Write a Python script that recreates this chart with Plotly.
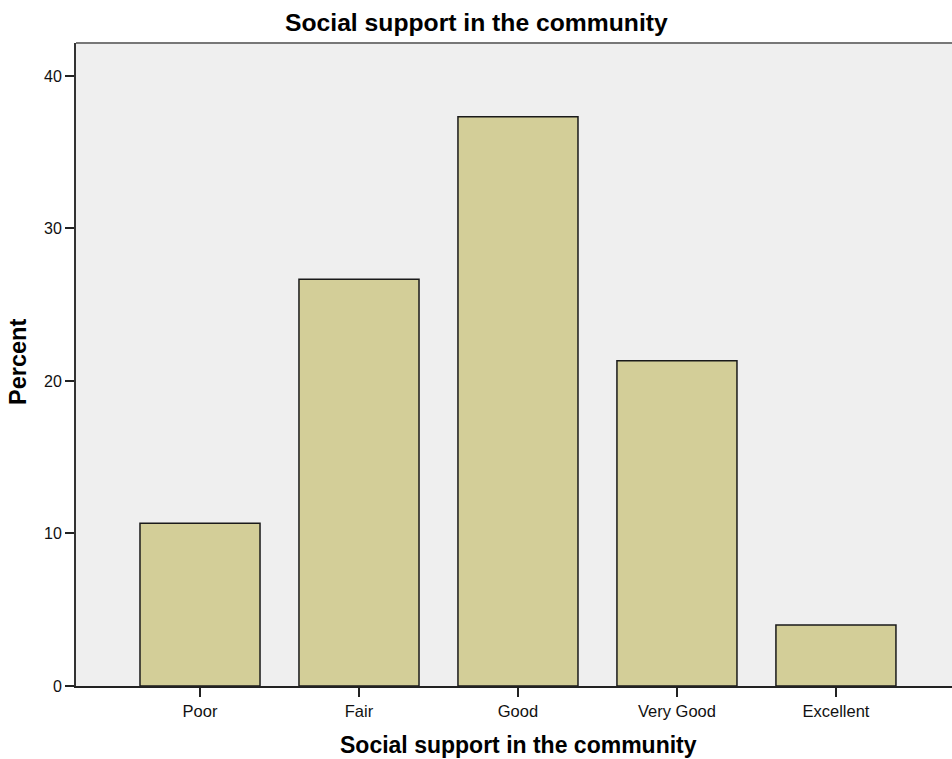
import plotly.graph_objects as go

categories = ["Poor", "Fair", "Good", "Very Good", "Excellent"]
percent = [10.67, 26.67, 37.33, 21.33, 4.0]
y_ticks = [0, 10, 20, 30, 40]
chart_title = "Social support in the community"
x_title = "Social support in the community"
y_title = "Percent"

fig = go.Figure(go.Bar(
    x=list(range(len(categories))),
    y=percent,
    width=0.755,
    marker=dict(color="#d3ce98", line=dict(color="#1a1a1a", width=1.5)),
))

font = "Liberation Sans, Arial, sans-serif"
W, H = 952, 759
fig.update_layout(
    width=W, height=H,
    margin=dict(l=76, r=0, t=43, b=73),
    paper_bgcolor="white",
    plot_bgcolor="#efefef",
    showlegend=False,
    font=dict(family=font, size=16, color="black"),
    xaxis=dict(
        range=[-0.78, 4.73], tickmode="array", tickvals=list(range(len(categories))),
        ticktext=categories, ticks="outside", ticklen=9, tickwidth=1.5, tickcolor="#222",
        showline=True, linecolor="#222", linewidth=2, showgrid=False, zeroline=False,
        tickfont=dict(size=16.5, color="#111"),
    ),
    yaxis=dict(
        range=[0, 42.16], tickmode="array", tickvals=y_ticks, ticks="outside", ticklen=9,
        tickwidth=1.5, tickcolor="#222", showline=True, linecolor="#333", linewidth=2,
        showgrid=False, zeroline=False, tickfont=dict(size=16, color="#111"),
    ),
    shapes=[dict(type="line", xref="paper", yref="paper", x0=0, x1=1, y0=1, y1=1,
                 line=dict(color="#777777", width=2))],
    annotations=[
        dict(text="<b>%s</b>" % chart_title, xref="paper", yref="paper",
             x=(476.5 - 76) / (W - 76), y=1 + (43 - 22) / (H - 43 - 73),
             xanchor="center", yanchor="middle", showarrow=False,
             font=dict(size=24.7, color="black")),
        dict(text="<b>%s</b>" % x_title, xref="paper", yref="paper",
             x=(518.5 - 76) / (W - 76), y=-(745 - 686) / (H - 43 - 73),
             xanchor="center", yanchor="middle", showarrow=False,
             font=dict(size=23, color="black")),
        dict(text="<b>%s</b>" % y_title, xref="paper", yref="paper", textangle=-90,
             x=-(76 - 18) / (W - 76), y=(686 - 362) / (H - 43 - 73),
             xanchor="center", yanchor="middle", showarrow=False,
             font=dict(size=23.5, color="black")),
    ],
)

fig.write_html("out.html", config={"displayModeBar": False},
               post_script="document.body.style.margin='0';document.body.style.overflow='hidden';")
